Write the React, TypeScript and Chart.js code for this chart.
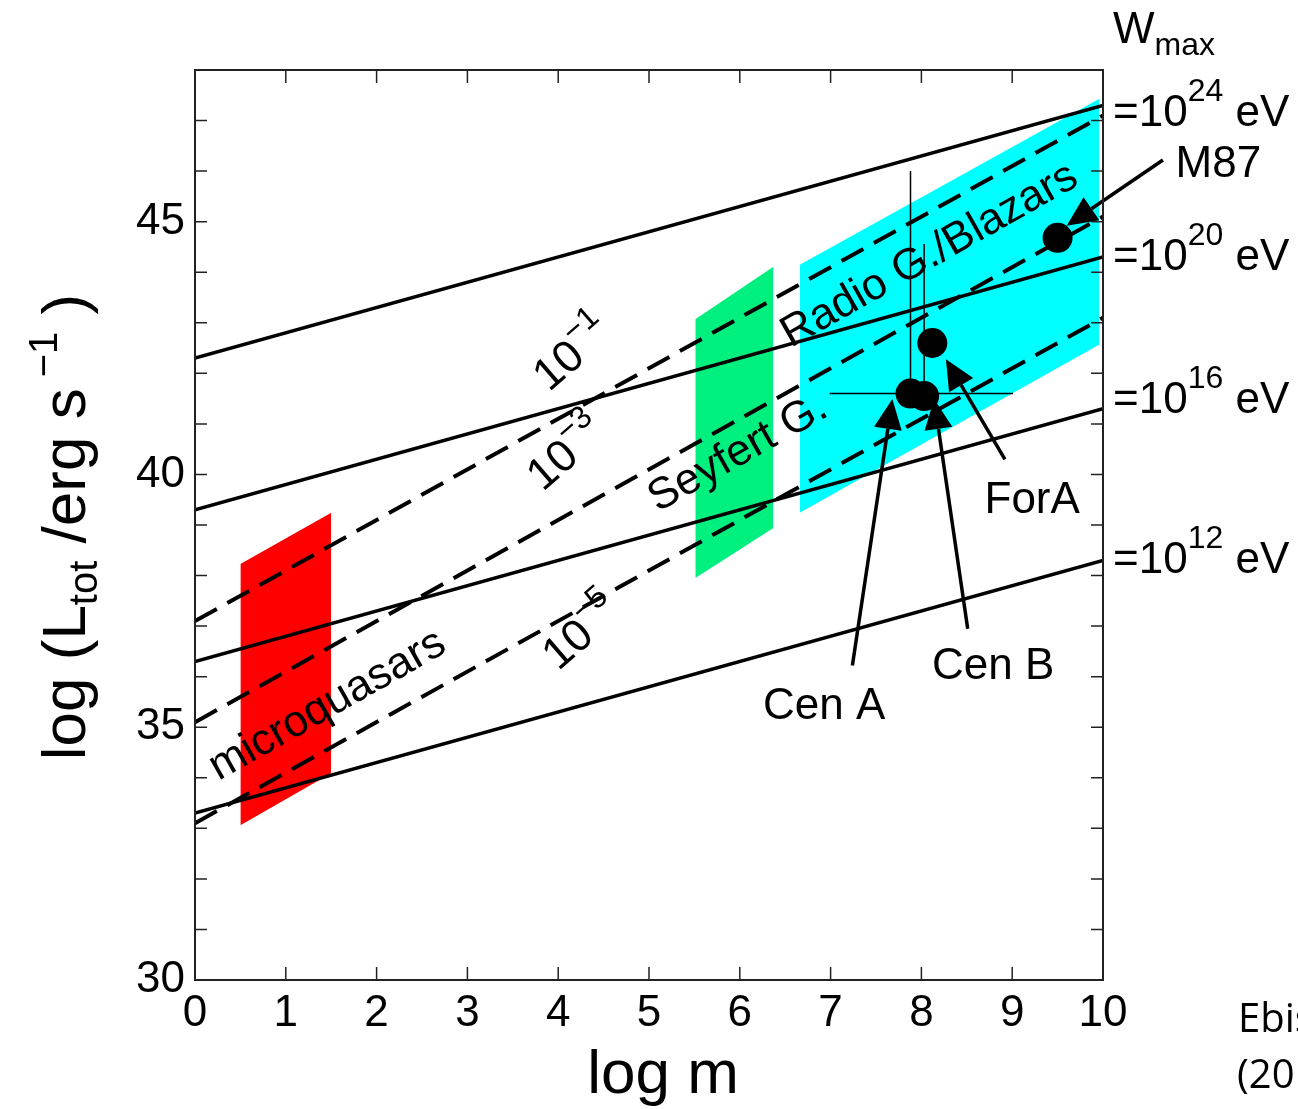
import React, { useEffect, useRef } from 'react';
import { Chart, registerables } from 'chart.js';

Chart.register(...registerables);

// ---------- data ----------
const X_MIN = 0;
const X_MAX = 10;
const Y_MIN = 30;
const Y_MAX = 48;
const Y_LABELED_TICKS = [30, 35, 40, 45];

const LINE_LOGM = [0, 10];
const WMAX_EXPONENTS = ['24', '20', '16', '12'];
const WMAX_AT_START = [42.3, 39.3, 36.3, 33.3];
const WMAX_AT_END = [47.3, 44.3, 41.3, 38.3];
const WMAX_LABEL_LOGL = [46.89, 44.05, 41.21, 38.05];

const ETA_EXPONENTS = ['\u22121', '\u22123', '\u22125'];
const ETA_AT_START = [37.1, 35.1, 33.1];
const ETA_AT_END = [47.1, 45.1, 43.1];
const ETA_LABEL_LOGM = [3.9, 3.83, 4.0];
const ETA_LABEL_LOGL = [41.62, 39.65, 36.1];

const CLASS_NAMES = ['microquasars', 'Seyfert G.', 'Radio G./Blazars'];
const CLASS_LOGM_LEFT = [0.5, 5.51, 6.66];
const CLASS_LOGM_RIGHT = [1.5, 6.37, 9.96];
const CLASS_TOP_LEFT = [38.23, 43.07, 44.15];
const CLASS_TOP_RIGHT = [39.24, 44.11, 47.43];
const CLASS_BOTTOM_LEFT = [33.06, 37.95, 39.24];
const CLASS_BOTTOM_RIGHT = [34.09, 38.94, 42.57];
const CLASS_LABEL_LOGM = [1.46, 5.98, 8.09];
const CLASS_LABEL_LOGL = [35.43, 40.42, 44.33];

const SOURCE_NAMES = ['M87', 'ForA', 'Cen A', 'Cen B'];
const SOURCE_LOGM = [9.5, 8.12, 7.88, 8.03];
const SOURCE_LOGL = [44.68, 42.6, 41.6, 41.55];
const SOURCE_LABEL_LOGM = [11.27, 9.22, 6.93, 8.79];
const SOURCE_LABEL_LOGL = [45.89, 39.24, 35.17, 35.96];
const ARROW_TAIL_LOGM = [10.66, 8.92, 7.24, 8.51];
const ARROW_TAIL_LOGL = [46.22, 40.3, 36.22, 36.95];
const ARROW_TIP_LOGM = [9.6, 8.27, 7.68, 8.14];
const ARROW_TIP_LOGL = [44.92, 42.28, 41.49, 41.49];

const CENA_LOGM_RANGE = [6.99, 9.01];
const CENA_LOGL_UPPER = 46.0;
const CENB_LOGL_UPPER = 44.56;

// ---------- styles ----------
const CLASS_COLORS = ['#FF0000', '#00F080', '#00FFFF'];
const FONT = '"Liberation Sans", Arial, Helvetica, sans-serif';
const CITE_FONT = '"Open Sans", "Noto Sans", sans-serif';
const W = 1298;
const H = 1109;

type Seg = { t: string; size: number; dy?: number };

function drawRich(ctx: CanvasRenderingContext2D, segs: Seg[], x: number, y: number, align: 'left' | 'center', family = FONT) {
  let total = 0;
  const widths: number[] = [];
  for (const s of segs) {
    ctx.font = `${s.size}px ${family}`;
    const w = ctx.measureText(s.t).width;
    widths.push(w);
    total += w;
  }
  let cx = align === 'center' ? x - total / 2 : x;
  ctx.textAlign = 'left';
  segs.forEach((s, i) => {
    ctx.font = `${s.size}px ${family}`;
    ctx.fillText(s.t, cx, y + (s.dy || 0));
    cx += widths[i];
  });
}

const decorPlugin = {
  id: 'decor',
  afterDatasetsDraw(chart: any) {
    const ctx: CanvasRenderingContext2D = chart.ctx;
    const xs = chart.scales.x;
    const ys = chart.scales.y;
    const px = (v: number) => xs.getPixelForValue(v);
    const py = (v: number) => ys.getPixelForValue(v);
    ctx.save();
    ctx.fillStyle = '#000';
    ctx.strokeStyle = '#000';
    ctx.textBaseline = 'alphabetic';

    // class labels (rotated)
    const ang = -29.5 * Math.PI / 180;
    CLASS_NAMES.forEach((name, i) => {
      ctx.save();
      ctx.translate(px(CLASS_LABEL_LOGM[i]), py(CLASS_LABEL_LOGL[i]));
      ctx.rotate(ang);
      ctx.font = `44px ${FONT}`;
      ctx.textAlign = 'center';
      ctx.textBaseline = 'middle';
      ctx.fillText(name, 0, 0);
      ctx.restore();
    });

    // eta labels
    ETA_EXPONENTS.forEach((e, i) => {
      ctx.save();
      ctx.translate(px(ETA_LABEL_LOGM[i]), py(ETA_LABEL_LOGL[i]));
      ctx.rotate(-41 * Math.PI / 180);
      ctx.textBaseline = 'alphabetic';
      drawRich(ctx, [{ t: '10', size: 45 }, { t: e, size: 32, dy: -21 }], 0, 0, 'left');
      ctx.restore();
    });

    // arrows
    SOURCE_NAMES.forEach((_, i) => {
      const x0 = px(ARROW_TAIL_LOGM[i]);
      const y0 = py(ARROW_TAIL_LOGL[i]);
      const x1 = px(ARROW_TIP_LOGM[i]);
      const y1 = py(ARROW_TIP_LOGL[i]);
      const a = Math.atan2(y1 - y0, x1 - x0);
      const L = 30;
      const hw = 14;
      const bx = x1 - L * Math.cos(a);
      const by = y1 - L * Math.sin(a);
      ctx.lineWidth = 3.5;
      ctx.beginPath();
      ctx.moveTo(x0, y0);
      ctx.lineTo(bx, by);
      ctx.stroke();
      ctx.beginPath();
      ctx.moveTo(x1, y1);
      ctx.lineTo(bx + hw * Math.sin(a), by - hw * Math.cos(a));
      ctx.lineTo(bx - hw * Math.sin(a), by + hw * Math.cos(a));
      ctx.closePath();
      ctx.fill();
    });

    // source labels
    SOURCE_NAMES.forEach((name, i) => {
      ctx.font = `44px ${FONT}`;
      ctx.textAlign = 'center';
      ctx.textBaseline = 'alphabetic';
      ctx.fillText(name, px(SOURCE_LABEL_LOGM[i]), py(SOURCE_LABEL_LOGL[i]));
    });

    // right labels
    const rx = chart.chartArea.right + 10;
    ctx.textBaseline = 'alphabetic';
    drawRich(ctx, [{ t: 'W', size: 44 }, { t: 'max', size: 32, dy: 12 }], rx, chart.chartArea.top - 27, 'left');
    WMAX_EXPONENTS.forEach((e, i) => {
      drawRich(ctx, [{ t: '=10', size: 44 }, { t: e, size: 32, dy: -25 }, { t: ' eV', size: 44 }], rx, py(WMAX_LABEL_LOGL[i]), 'left');
    });

    // axis titles
    ctx.save();
    ctx.translate(85, (chart.chartArea.top + chart.chartArea.bottom) / 2 + 2);
    ctx.rotate(-Math.PI / 2);
    drawRich(ctx, [
      { t: 'log (L', size: 62 },
      { t: 'tot', size: 40, dy: 12 },
      { t: ' /erg s', size: 62 },
      { t: ' \u22121', size: 40, dy: -28 },
      { t: ' )', size: 62 },
    ], 0, 0, 'center');
    ctx.restore();
    ctx.font = `62px ${FONT}`;
    ctx.textAlign = 'center';
    ctx.fillText('log m', (chart.chartArea.left + chart.chartArea.right) / 2 + 14, 1093);

    // citation (cut off at the canvas edge like the reference)
    ctx.font = `40px ${CITE_FONT}`;
    ctx.textAlign = 'left';
    ctx.fillText('Ebisuzaki', 1238, 1032);
    ctx.fillText('(2014)', 1237, 1088);

    ctx.restore();
  },
  afterDraw(chart: any) {
    const ctx: CanvasRenderingContext2D = chart.ctx;
    const { left, right, top, bottom } = chart.chartArea;
    const xs = chart.scales.x;
    const ys = chart.scales.y;
    ctx.save();
    ctx.strokeStyle = '#222';
    ctx.lineWidth = 1.5;
    xs.ticks.forEach((t: any) => {
      const x = xs.getPixelForValue(t.value);
      ctx.beginPath();
      ctx.moveTo(x, bottom);
      ctx.lineTo(x, bottom - 13);
      ctx.moveTo(x, top);
      ctx.lineTo(x, top + 13);
      ctx.stroke();
    });
    ys.ticks.forEach((t: any) => {
      const y = ys.getPixelForValue(t.value);
      ctx.beginPath();
      ctx.moveTo(left, y);
      ctx.lineTo(left + 12, y);
      ctx.moveTo(right, y);
      ctx.lineTo(right - 12, y);
      ctx.stroke();
    });
    ctx.lineWidth = 2;
    ctx.strokeRect(left, top, right - left, bottom - top);
    ctx.restore();
  },
};

export default function App() {
  const ref = useRef<HTMLCanvasElement | null>(null);

  useEffect(() => {
    const canvas = ref.current;
    if (!canvas) return;
    const datasets: any[] = [];

    // sources
    datasets.push({
      label: 'sources',
      data: SOURCE_LOGM.map((x, i) => ({ x, y: SOURCE_LOGL[i] })),
      pointRadius: 15,
      pointBackgroundColor: '#000',
      pointBorderWidth: 0,
      showLine: false,
      order: 0,
    });

    // error bars
    const bar = (pts: { x: number; y: number }[]) => ({
      data: pts,
      showLine: true,
      borderColor: '#000',
      borderWidth: 1.5,
      pointRadius: 0,
      fill: false,
      order: 1,
    });
    datasets.push(bar([{ x: SOURCE_LOGM[2], y: SOURCE_LOGL[2] }, { x: SOURCE_LOGM[2], y: CENA_LOGL_UPPER }]));
    datasets.push(bar([{ x: SOURCE_LOGM[3], y: SOURCE_LOGL[3] }, { x: SOURCE_LOGM[3], y: CENB_LOGL_UPPER }]));
    datasets.push(bar([{ x: CENA_LOGM_RANGE[0], y: SOURCE_LOGL[2] }, { x: CENA_LOGM_RANGE[1], y: SOURCE_LOGL[2] }]));

    // W_max lines (solid)
    WMAX_EXPONENTS.forEach((_, i) => {
      datasets.push({
        data: [{ x: LINE_LOGM[0], y: WMAX_AT_START[i] }, { x: LINE_LOGM[1], y: WMAX_AT_END[i] }],
        showLine: true,
        borderColor: '#000',
        borderWidth: 3.5,
        pointRadius: 0,
        fill: false,
        order: 2,
      });
    });

    // eta lines (dashed)
    ETA_EXPONENTS.forEach((_, i) => {
      datasets.push({
        data: [{ x: LINE_LOGM[0], y: ETA_AT_START[i] }, { x: LINE_LOGM[1], y: ETA_AT_END[i] }],
        showLine: true,
        borderColor: '#000',
        borderWidth: 4,
        borderDash: [25, 12],
        pointRadius: 0,
        fill: false,
        order: 2,
      });
    });

    // source class regions: top edge filled to bottom edge
    CLASS_NAMES.forEach((_, i) => {
      datasets.push({
        data: [{ x: CLASS_LOGM_LEFT[i], y: CLASS_TOP_LEFT[i] }, { x: CLASS_LOGM_RIGHT[i], y: CLASS_TOP_RIGHT[i] }],
        showLine: true,
        borderWidth: 0,
        borderColor: 'rgba(0,0,0,0)',
        backgroundColor: CLASS_COLORS[i],
        pointRadius: 0,
        fill: '+1',
        order: 3,
      });
      datasets.push({
        data: [{ x: CLASS_LOGM_LEFT[i], y: CLASS_BOTTOM_LEFT[i] }, { x: CLASS_LOGM_RIGHT[i], y: CLASS_BOTTOM_RIGHT[i] }],
        showLine: true,
        borderWidth: 0,
        borderColor: 'rgba(0,0,0,0)',
        pointRadius: 0,
        fill: false,
        order: 3,
      });
    });

    const chart = new Chart(canvas, {
      type: 'scatter',
      data: { datasets },
      options: {
        responsive: false,
        animation: false,
        events: [],
        layout: { padding: { top: 70, right: 195, left: 0, bottom: 0 } },
        plugins: { legend: { display: false }, tooltip: { enabled: false } },
        scales: {
          x: {
            type: 'linear',
            min: X_MIN,
            max: X_MAX,
            border: { display: false },
            grid: { display: false, drawTicks: false },
            ticks: {
              stepSize: 1,
              autoSkip: false,
              maxRotation: 0,
              padding: 7,
              color: '#000',
              font: { family: FONT, size: 44 },
            },
            afterFit: (s: any) => { s.height = 129; },
          },
          y: {
            type: 'linear',
            min: Y_MIN,
            max: Y_MAX,
            border: { display: false },
            grid: { display: false, drawTicks: false },
            ticks: {
              stepSize: 1,
              autoSkip: false,
              padding: 10,
              color: '#000',
              font: { family: FONT, size: 44 },
              callback: (v: any) => (Y_LABELED_TICKS.includes(Number(v)) ? String(v) : ''),
            },
            afterFit: (s: any) => { s.width = 195; },
          },
        },
      } as any,
      plugins: [decorPlugin as any],
    });
    return () => chart.destroy();
  }, []);

  return (
    <div style={{ position: 'absolute', left: 0, top: 0, width: W, height: H, background: '#fff', overflow: 'hidden' }}>
      <canvas ref={ref} width={W} height={H} style={{ width: W, height: H, display: 'block' }} />
    </div>
  );
}
